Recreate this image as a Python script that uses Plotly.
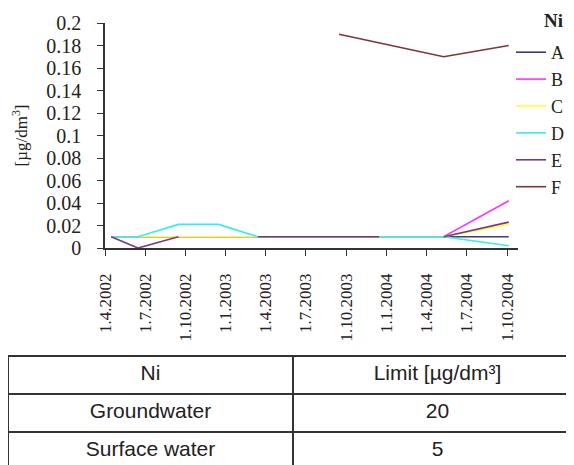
import plotly.graph_objects as go

# ---- data ----
sample_dates = ["2002-04-15", "2002-06-15", "2002-09-15", "2002-12-15", "2003-03-15",
                "2003-06-15", "2003-09-15", "2003-12-15", "2004-03-15", "2004-05-10", "2004-10-05"]
series_names = ["A", "B", "C", "D", "E", "F"]
A = [0.01, 0.01, 0.01, 0.01, 0.01, 0.01, 0.01, 0.01, 0.01, 0.01, 0.01]
B = [0.01, 0.01, 0.01, 0.01, 0.01, 0.01, 0.01, 0.01, 0.01, 0.01, 0.042]
C = [0.01, 0.01, 0.01, 0.01, 0.01, 0.01, 0.01, 0.01, 0.01, 0.01, 0.021]
D = [0.01, 0.01, 0.021, 0.021, 0.01, 0.01, 0.01, 0.01, 0.01, 0.01, 0.002]
E = [0.01, 0.0, 0.01, None, 0.01, 0.01, 0.01, 0.01, None, 0.01, 0.023]
F = [None, None, None, None, None, None, 0.19, None, None, 0.17, 0.18]
series_values = [A, B, C, D, E, F]
legend_title = "Ni"

x_tick_dates = ["2002-04-01", "2002-07-01", "2002-10-01", "2003-01-01", "2003-04-01", "2003-07-01",
                "2003-10-01", "2004-01-01", "2004-04-01", "2004-07-01", "2004-10-01"]
x_tick_labels = ["1.4.2002", "1.7.2002", "1.10.2002", "1.1.2003", "1.4.2003", "1.7.2003",
                 "1.10.2003", "1.1.2004", "1.4.2004", "1.7.2004", "1.10.2004"]
y_tick_vals = [0, 0.02, 0.04, 0.06, 0.08, 0.1, 0.12, 0.14, 0.16, 0.18, 0.2]
y_tick_labels = ["0", "0.02", "0.04", "0.06", "0.08", "0.1", "0.12", "0.14", "0.16", "0.18", "0.2"]

table_header = ["Ni", "Limit [µg/dm³]"]
table_water = ["Groundwater", "Surface water"]
table_limits = ["20", "5"]

# ---- styles ----
colors = ["#3a3a80", "#ff33ff", "#ffff3a", "#33eeee", "#7a3a7a", "#7d3535"]
W, H = 574, 465
px_left, px_right, px_top, px_bottom = 97, 510, 15, 240
serif = "Liberation Serif, Times New Roman, serif"
sans = "Liberation Sans, Arial, sans-serif"

fig = go.Figure()
for name, vals, col in zip(series_names, series_values, colors):
    fig.add_trace(go.Scatter(
        x=sample_dates, y=vals, mode="lines", name=name, legendgroup=name,
        line=dict(color=col, width=1.6), connectgaps=(name == "F"),
        xaxis="x", yaxis="y"))

fig.add_trace(go.Table(
    domain=dict(x=[0.0, 1.0], y=[0, 1 - 348 / H]),
    columnwidth=[285, 289],
    header=dict(values=table_header, height=38, align="center",
                fill_color="white", line=dict(color="#333333", width=1.5),
                font=dict(family=sans, size=21, color="#222222")),
    cells=dict(values=[table_water, table_limits], height=38, align="center",
               fill_color="white", line=dict(color="#333333", width=1.5),
               font=dict(family=sans, size=21, color="#222222")),
))

fig.update_layout(
    width=W, height=H,
    margin=dict(l=0, r=0, t=0, b=0, autoexpand=False),
    paper_bgcolor="white", plot_bgcolor="white",
    font=dict(family=serif, size=16, color="#222222"),
    xaxis=dict(
        domain=[px_left / W, px_right / W], type="date",
        range=["2002-04-01", "2004-10-26"],
        tickmode="array", tickvals=x_tick_dates, ticktext=x_tick_labels,
        tickangle=-90, ticks="outside", ticklen=6, tickwidth=1.3, tickcolor="#333333",
        ticklabelstandoff=11,
        showline=True, linecolor="#333333", linewidth=1.5, showgrid=False, zeroline=False,
        tickfont=dict(family=serif, size=17, color="#222222"), anchor="y"),
    yaxis=dict(
        domain=[1 - px_bottom / H, 1 - px_top / H], range=[0, 0.2],
        tickmode="array", tickvals=y_tick_vals, ticktext=y_tick_labels,
        ticks="outside", ticklen=6, tickwidth=1.3, tickcolor="#333333",
        ticklabelstandoff=12,
        showline=True, linecolor="#333333", linewidth=1.5, showgrid=False, zeroline=False,
        tickfont=dict(family=serif, size=20, color="#222222"),
        title=dict(text="[µg/dm<sup>3</sup>]", font=dict(family=serif, size=17, color="#222222"),
                   standoff=14), anchor="x"),
    legend=dict(
        xref="container", yref="container",
        x=503 / W, y=1 - 26 / H, xanchor="left", yanchor="top",
        font=dict(family=serif, size=18, color="#222222"),
        tracegroupgap=0.5, bgcolor="rgba(0,0,0,0)", borderwidth=0),
    annotations=[dict(text="<b>" + legend_title + "</b>", xref="paper", yref="paper",
                      x=545 / W, y=1 - 13 / H, xanchor="center", yanchor="middle",
                      showarrow=False, font=dict(family=serif, size=19, color="#222222"))],
)

fig.write_html("out.html")
